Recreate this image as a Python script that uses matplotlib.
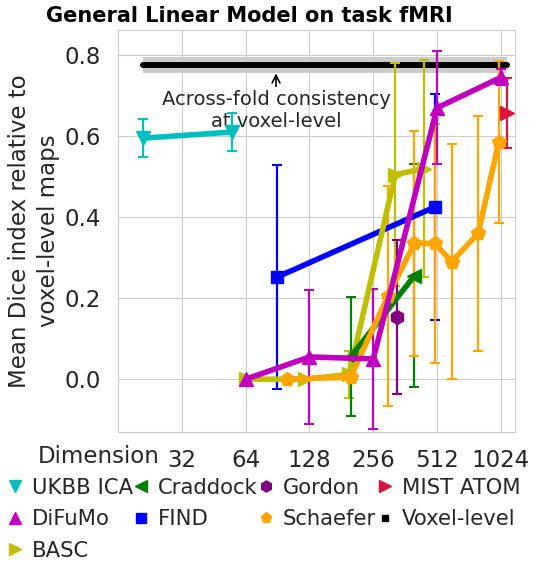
import numpy as np
import matplotlib
matplotlib.use('Agg')
import matplotlib.pyplot as plt
import seaborn as sns

sns.set_style('whitegrid')
plt.rcParams['font.family'] = ['DejaVu Sans']

# Valeurs (moyenne, demi-erreur)
ukbb_dim = [21, 55]
ukbb_mean = [0.595, 0.61]
ukbb_err = [0.047, 0.047]

difumo_dim = [64, 128, 256, 512, 1024]
difumo_mean = [0.0, 0.055, 0.05, 0.67, 0.745]
difumo_err = [0.0, 0.165, 0.172, 0.14, 0.02]

basc_dim = [64, 122, 197, 325, 444]
basc_mean = [0.0, 0.0, 0.012, 0.505, 0.52]
basc_err = [0.0, 0.0, 0.058, 0.275, 0.267]

craddock_dim = [200, 400]
craddock_mean = [0.055, 0.255]
craddock_err = [0.147, 0.275]

find_dim = [90, 499]
find_mean = [0.252, 0.425]
find_err = [0.277, 0.28]

gordon_dim = [333]
gordon_mean = [0.153]
gordon_err = [0.19]

schaefer_dim = [100, 200, 300, 400, 500, 600, 800, 1000]
schaefer_mean = [0.0, 0.005, 0.205, 0.335, 0.335, 0.29, 0.36, 0.585]
schaefer_err = [0.005, 0.01, 0.272, 0.278, 0.295, 0.29, 0.29, 0.2]

mist_dim = [1095]
mist_mean = [0.657]
mist_err = [0.086]

voxel_dim = [21, 1095]
voxel_mean = 0.775
voxel_err = 0.02

xticks = [32, 64, 128, 256, 512, 1024]

fig = plt.figure(figsize=(5.39, 5.66), dpi=100)
ax = fig.add_axes([0.219, 0.237, 0.736, 0.710])

ax.fill_between(voxel_dim, voxel_mean - voxel_err, voxel_mean + voxel_err,
                color='0.8', lw=0, zorder=1)
ax.plot(voxel_dim, [voxel_mean] * 2, color='k', lw=4.3, zorder=2)

def courbe(dims, moy, err, couleur, marqueur, nom, ms=10):
    ax.errorbar(dims, moy, yerr=err, color=couleur, lw=4, marker=marqueur,
                markersize=ms, elinewidth=1.6, capsize=3.5, capthick=1.5,
                label=nom, zorder=3)
    return plt.Line2D([], [], color=couleur, marker=marqueur, ls='none',
                      markersize=ms * 0.8)

h_ukbb = courbe(ukbb_dim, ukbb_mean, ukbb_err, 'c', 'v', 'UKBB ICA')
h_find = courbe(find_dim, find_mean, find_err, 'b', 's', 'FIND', ms=9)
h_basc = courbe(basc_dim, basc_mean, basc_err, 'y', '>', 'BASC')
h_crad = courbe(craddock_dim, craddock_mean, craddock_err, 'g', '<', 'Craddock')
h_gord = courbe(gordon_dim, gordon_mean, gordon_err, 'purple', 'h', 'Gordon')
h_scha = courbe(schaefer_dim, schaefer_mean, schaefer_err, 'orange', 'p', 'Schaefer')
h_mist = courbe(mist_dim, mist_mean, mist_err, 'crimson', '>', 'MIST ATOM')
h_difu = courbe(difumo_dim, difumo_mean, difumo_err, 'm', '^', 'DiFuMo')
h_vox = plt.Line2D([], [], color='k', marker='s', ls='none', markersize=4)

ax.annotate('Across-fold consistency\nat voxel-level', xy=(89, 0.755),
            xytext=(89, 0.715), ha='center', va='top', fontsize=14,
            color='0.15',
            arrowprops=dict(arrowstyle='->', color='k', lw=1.2,
                            shrinkA=0, shrinkB=0))

ax.set_xscale('log', base=2)
ax.set_xlim(16, 1190)
ax.set_ylim(-0.13, 0.862)
ax.set_xticks(xticks)
ax.set_xticklabels([str(t) for t in xticks])
ax.minorticks_off()
ax.set_yticks([0.0, 0.2, 0.4, 0.6, 0.8])
ax.tick_params(axis='x', labelsize=16.5, colors='0.15', pad=9)
ax.tick_params(axis='y', labelsize=16.5, colors='0.15', pad=9)
ax.set_ylabel('Mean Dice index relative to\nvoxel-level maps', fontsize=16.5,
              color='0.15', labelpad=3, linespacing=1.35)
ax.text(0.106, -0.032, 'Dimension', transform=ax.transAxes, ha='right',
        va='top', fontsize=16.5, color='0.15')
fig.text(0.462, 0.972, 'General Linear Model on task fMRI', fontsize=15,
         fontweight='bold', color='k', ha='center', va='center')

poignees = [h_ukbb, h_difu, h_basc, h_crad, h_find, h_gord, h_scha, h_mist, h_vox]
noms = ['UKBB ICA', 'DiFuMo', 'BASC', 'Craddock', 'FIND', 'Gordon',
        'Schaefer', 'MIST ATOM', 'Voxel-level']
fig.legend(poignees, noms, loc='upper left', bbox_to_anchor=(0.0, 0.171),
           ncol=4, frameon=False, fontsize=15.2, handlelength=0.6,
           handletextpad=0.5, columnspacing=0.1, labelspacing=0.55,
           borderaxespad=0.0, labelcolor='0.15')

fig.savefig('out.png', dpi=100)
